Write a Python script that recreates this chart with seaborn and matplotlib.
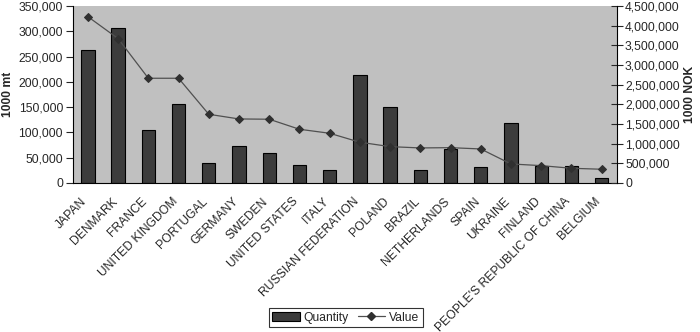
import matplotlib
matplotlib.use("Agg")
import matplotlib.pyplot as plt
import matplotlib.transforms as mtransforms
import numpy as np
import pandas as pd
import seaborn as sns
from matplotlib.patches import Patch
from matplotlib.lines import Line2D
from matplotlib.ticker import FuncFormatter, MultipleLocator, FixedLocator

countries = ["JAPAN", "DENMARK", "FRANCE", "UNITED KINGDOM", "PORTUGAL", "GERMANY",
             "SWEDEN", "UNITED STATES", "ITALY", "RUSSIAN FEDERATION", "POLAND",
             "BRAZIL", "NETHERLANDS", "SPAIN", "UKRAINE", "FINLAND",
             "PEOPLE'S REPUBLIC OF CHINA", "BELGIUM"]
quantity = [263000, 307000, 105000, 156000, 40000, 74000, 60000, 36000, 25000,
            213000, 151000, 25000, 67000, 32000, 119000, 34000, 33000, 10500]
value = [4228000, 3670000, 2662000, 2662000, 1746000, 1627000, 1620000, 1365000,
         1263000, 1035000, 923000, 890000, 897000, 864000, 483000, 440000, 373000, 348000]

df = pd.DataFrame({"country": countries, "quantity": quantity, "value": value,
                   "pos": np.arange(len(countries))})

sns.set_style("white")
plt.rcParams["font.family"] = ["Liberation Sans", "DejaVu Sans"]

fig = plt.figure(figsize=(7.0, 3.32), dpi=100)
ax = fig.add_axes([0.104, 0.449, 0.777, 0.533])
ax.set_facecolor("#c0c0c0")

sns.barplot(data=df, x="pos", y="quantity", ax=ax, color="#3c3c3c",
            edgecolor="black", linewidth=0.8, width=0.44, saturation=1,
            native_scale=True)
ax.set_xlim(-0.5, len(countries) - 0.5)
ax.set_ylim(0, 350000)
ax.yaxis.set_major_locator(MultipleLocator(50000))
fmt = FuncFormatter(lambda v, p: f"{int(v):,}")
ax.yaxis.set_major_formatter(fmt)
ax.set_xticks(df["pos"])
ax.set_xticklabels(countries, rotation=45, ha="right", rotation_mode="anchor",
                   fontsize=8.7)
ax.tick_params(axis="x", which="major", length=0, pad=9)
shift = mtransforms.ScaledTranslation(-7 / 100, 0, fig.dpi_scale_trans)
for lbl in ax.get_xticklabels():
    lbl.set_transform(lbl.get_transform() + shift)
ax.xaxis.set_minor_locator(FixedLocator(np.arange(-0.5, len(countries), 1.0)))
ax.tick_params(axis="x", which="minor", length=8, direction="inout", width=0.8)
ax.tick_params(axis="y", length=5, direction="out", width=0.8, labelsize=8.7,
               left=True, pad=2)
ax.set_xlabel("")
ax.set_ylabel("1000 mt", fontsize=8.7, fontweight="bold")
ax.yaxis.set_label_coords(-0.108, 0.5)
for s in ["top", "right"]:
    ax.spines[s].set_visible(False)
ax.spines["left"].set_color("black")
ax.spines["bottom"].set_color("black")

ax2 = ax.twinx()
sns.lineplot(data=df, x="pos", y="value", ax=ax2, color="#505050", linewidth=0.9,
             marker="D", markersize=4.5, markerfacecolor="#303030",
             markeredgecolor="#303030")
ax2.set_ylim(0, 4500000)
ax2.yaxis.set_major_locator(MultipleLocator(500000))
ax2.yaxis.set_major_formatter(fmt)
ax2.tick_params(axis="y", length=8, direction="inout", width=0.8, labelsize=8.7,
                right=True, pad=2)
ax2.set_ylabel("1000 NOK", fontsize=8.7, fontweight="bold")
ax2.yaxis.set_label_coords(1.123, 0.5)
ax2.set_xlabel("")
for s in ["top", "left", "bottom"]:
    ax2.spines[s].set_visible(False)
ax2.spines["right"].set_color("black")

handles = [Patch(facecolor="#3c3c3c", edgecolor="black", linewidth=0.8),
           Line2D([0], [0], color="#505050", linewidth=0.9, marker="D",
                  markersize=4.5, markerfacecolor="#303030", markeredgecolor="#303030")]
leg = fig.legend(handles, ["Quantity", "Value"], ncol=2, loc="center",
                 bbox_to_anchor=(0.494, 0.043), frameon=True, fontsize=8.7,
                 fancybox=False, handlelength=2.3, handletextpad=0.3,
                 columnspacing=0.7, borderpad=0.3)
leg.get_frame().set_edgecolor("black")
leg.get_frame().set_linewidth(0.8)

fig.savefig("out.png", dpi=100, facecolor="white")
